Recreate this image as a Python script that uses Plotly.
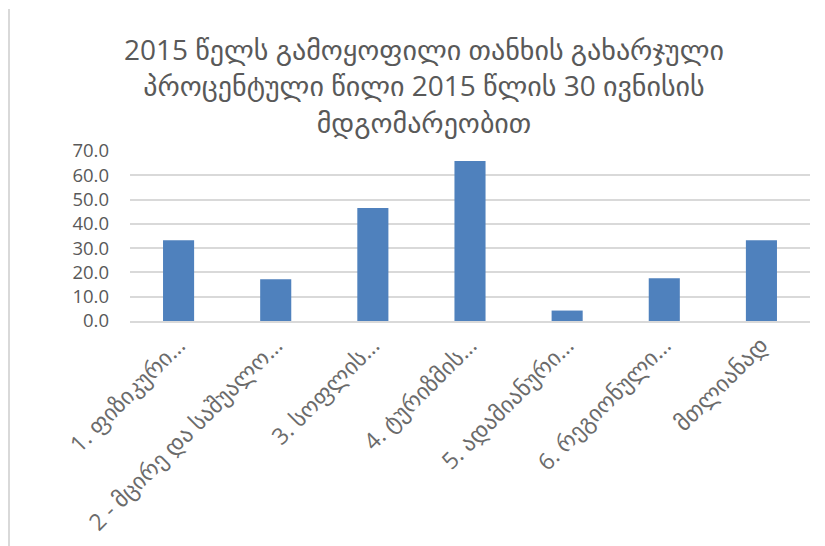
import plotly.graph_objects as go

categories = [
    "1. ფიზიკური…",
    "2 - მცირე და საშუალო…",
    "3. სოფლის…",
    "4. ტურიზმის…",
    "5. ადამიანური…",
    "6. რეგიონული…",
    "მთლიანად",
]
values = [33.3, 17.2, 46.5, 65.9, 4.3, 17.6, 33.3]
y_ticks = [0, 10, 20, 30, 40, 50, 60, 70]
title_text = "2015 წელს გამოყოფილი თანხის გახარჯული<br>პროცენტული წილი 2015 წლის 30 ივნისის<br>მდგომარეობით"

FONT = "Open Sans, DejaVu Sans, sans-serif"

L, T, PW, PH = 122, 143, 680, 170
W, H = 825, 546

fig = go.Figure(
    go.Bar(
        x=categories,
        y=values,
        marker=dict(color="#4F81BD", line=dict(width=0)),
        width=0.32,
    )
)

fig.update_layout(
    width=W,
    height=H,
    margin=dict(l=L, r=W - L - PW, t=T, b=H - T - PH),
    paper_bgcolor="white",
    plot_bgcolor="white",
    showlegend=False,
    title=dict(
        text=title_text,
        font=dict(family=FONT, size=28, color="#595959"),
        x=416 / W,
        xanchor="center",
        xref="container",
        y=1 - 52 / H,
        yref="container",
        yanchor="middle",
    ),
    xaxis=dict(
        tickangle=-45,
        tickfont=dict(family=FONT, size=23, color="#6b6b6b"),
        showgrid=False,
        showline=True,
        linecolor="#d9d9d9",
        linewidth=1.5,
        ticks="",
        automargin=False,
    ),
    yaxis=dict(
        range=[0, 70],
        tickvals=y_ticks,
        tickformat=".1f",
        tickfont=dict(family=FONT, size=18.5, color="#595959"),
        ticklabelstandoff=20,
        showgrid=True,
        gridcolor="#d9d9d9",
        gridwidth=1.5,
        zeroline=False,
        showline=False,
        ticks="",
        automargin=False,
    ),
    shapes=[
        dict(
            type="line",
            xref="paper",
            yref="paper",
            x0=(1 - L) / PW,
            x1=(1 - L) / PW,
            y0=(T + PH - H) / PH,
            y1=(T + PH - 1) / PH,
            line=dict(color="#d9d9d9", width=2),
        )
    ],
)

fig.write_html("out.html")
